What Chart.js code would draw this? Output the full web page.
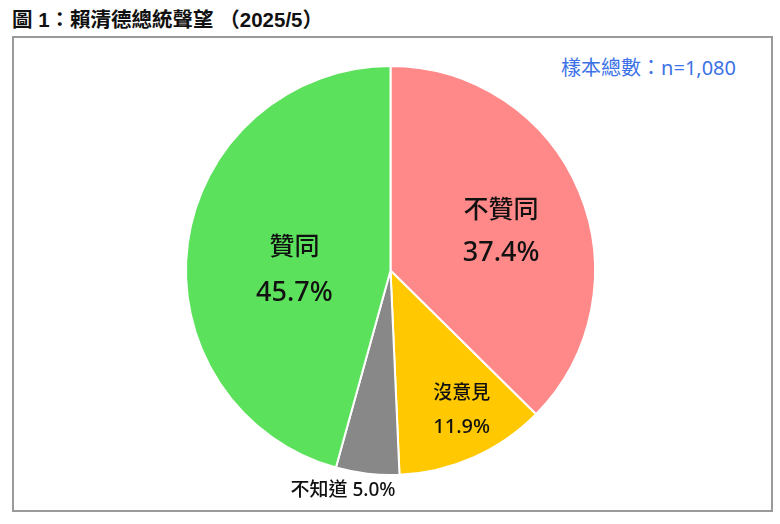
<!DOCTYPE html>
<html>
<head>
<meta charset="utf-8">
<script src="https://cdn.jsdelivr.net/npm/chart.js@4.4.1/dist/chart.umd.min.js"></script>
<style>
  html,body{margin:0;padding:0;background:#fff;}
  #wrap{position:relative;width:780px;height:524px;overflow:hidden;}
  #title{position:absolute;left:12px;top:3px;font:bold 20.5px "Liberation Sans","Noto Sans CJK TC",sans-serif;color:#111;white-space:pre;}
  #box{position:absolute;left:12px;top:36px;width:757px;height:472px;border:2px solid #9a9a9a;}
  #note{position:absolute;right:44px;top:52px;font:20px "Noto Sans","Noto Sans CJK TC",sans-serif;color:#3d72e6;white-space:pre;}
  canvas{position:absolute;left:0;top:0;}
</style>
</head>
<body>
<div id="wrap">
  <div id="title">圖 1：賴清德總統聲望 （2025/5）</div>
  <div id="box"></div>
  <div id="note">樣本總數：n=1,080</div>
  <canvas id="pie" width="780" height="524"></canvas>
</div>
<script>
// data
const categories=['不贊同','沒意見','不知道','贊同'];
const values=[37.4,11.9,5.0,45.7];

// label placement per slice: radius fraction, angle nudge (deg), line gap, font sizes
const placement=[
  {r:0.575,da:2.8,gap:45,fs:25,ps:27},
  {r:0.763,da:-3.2,gap:35,fs:19,ps:20},
  {r:1.10,da:5.7,inline:true,fs:19,ps:19},
  {r:0.47,da:-7.1,gap:47,fs:25,ps:27}
];

const sliceLabels={
  id:'sliceLabels',
  afterDatasetsDraw(chart){
    const ctx=chart.ctx;
    const meta=chart.getDatasetMeta(0);
    ctx.save();
    ctx.fillStyle='#111';
    ctx.textAlign='center';
    ctx.textBaseline='middle';
    meta.data.forEach((arc,i)=>{
      const p=placement[i];
      const a=(arc.startAngle+arc.endAngle)/2+p.da*Math.PI/180;
      const r=arc.outerRadius*p.r;
      const x=arc.x+Math.cos(a)*r, y=arc.y+Math.sin(a)*r;
      const pct=values[i].toFixed(1)+'%';
      if(p.inline){
        ctx.font='500 '+p.fs+'px "Noto Sans","Noto Sans CJK TC",sans-serif';
        ctx.fillText(categories[i]+' '+pct,x,y);
      } else {
        ctx.font='500 '+p.fs+'px "Noto Sans CJK TC",sans-serif';
        ctx.fillText(categories[i],x,y-p.gap/2);
        ctx.font='500 '+p.ps+'px "Noto Sans","Noto Sans CJK TC",sans-serif';
        ctx.fillText(pct,x,y+p.gap/2);
      }
    });
    ctx.restore();
  }
};

new Chart(document.getElementById('pie'),{
  type:'pie',
  data:{labels:categories,datasets:[{
    data:values,
    backgroundColor:['#ff8888','#ffc800','#888888','#5ce15c'],
    borderColor:'#ffffff',
    borderWidth:2,
    radius:204.5
  }]},
  options:{
    responsive:false,
    animation:false,
    events:[],
    layout:{padding:{left:184,right:183,top:64,bottom:47}},
    plugins:{legend:{display:false},tooltip:{enabled:false}}
  },
  plugins:[sliceLabels]
});
</script>
</body>
</html>
